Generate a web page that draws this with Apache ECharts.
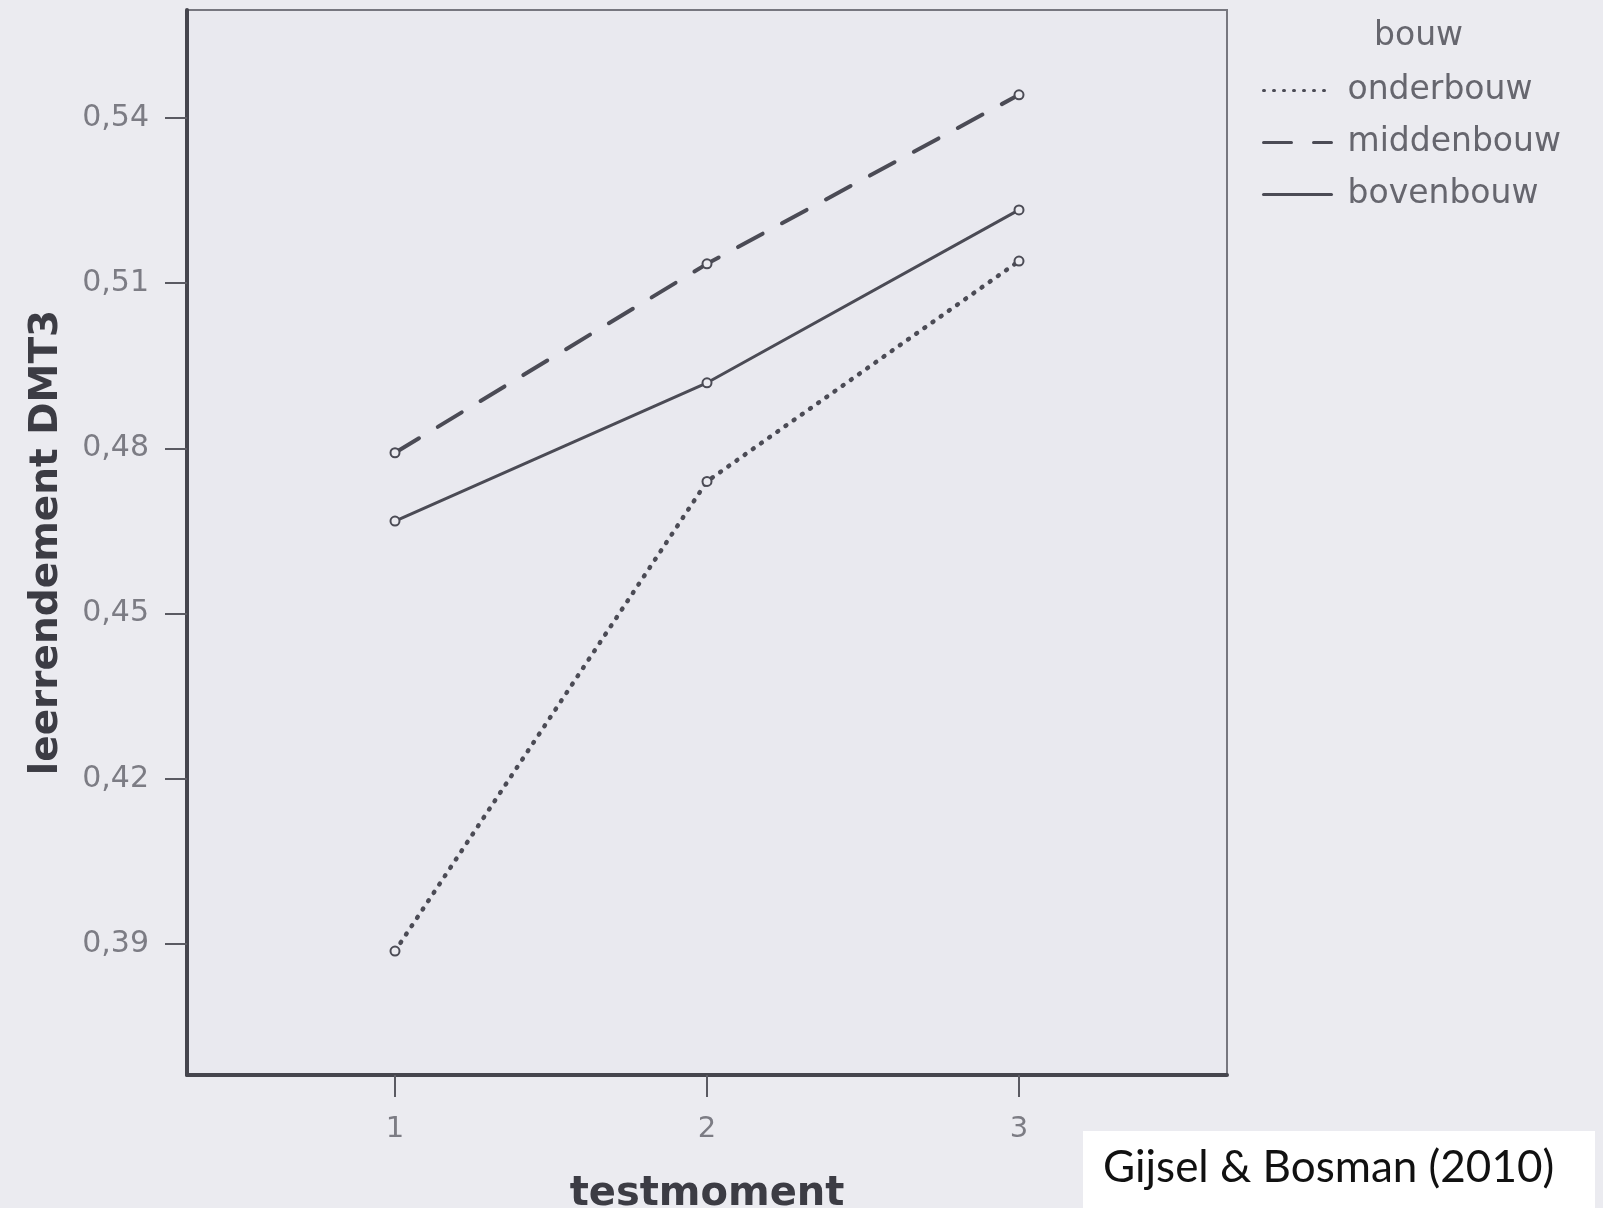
<!DOCTYPE html>
<html>
<head>
<meta charset="utf-8">
<script src="https://cdn.jsdelivr.net/npm/echarts@6/dist/echarts.min.js"></script>
<style>
html,body{margin:0;padding:0;background:#ebebf0;}
#chart{width:1603px;height:1208px;}
</style>
</head>
<body>
<div id="chart"></div>
<script>
const testmoments = [1, 2, 3];
const onderbouw = [0.3887, 0.4740, 0.5140];
const middenbouw = [0.4792, 0.5135, 0.5442];
const bovenbouw = [0.4668, 0.4919, 0.5233];
const yTicks = [0.39, 0.42, 0.45, 0.48, 0.51, 0.54];
const xTicks = [1, 2, 3];
const seriesNames = ['onderbouw', 'middenbouw', 'bovenbouw'];
const legendTitle = 'bouw';
const xTitle = 'testmoment';
const yTitle = 'leerrendement DMT3';
const sourceNote = 'Gijsel & Bosman (2010)';

const lineColor = '#4b4b55';
const bg = '#ebebf0';

function pairs(vals){ return testmoments.map((t,i)=>[t, vals[i]]); }
function mkSeries(name, vals, type, width, cap){
  return {
    name: name, type: 'line', data: pairs(vals),
    symbol: 'circle', symbolSize: 9,
    itemStyle: {color: bg, borderColor: lineColor, borderWidth: 2},
    lineStyle: {color: lineColor, width: width, type: type, cap: cap},
    emphasis: {disabled: true},
    z: 3
  };
}

const chart = echarts.init(document.getElementById('chart'), null, {renderer: 'canvas'});
chart.setOption({
  backgroundColor: bg,
  animation: false,
  grid: {left: 187, top: 10, width: 1040, height: 1065, show: true,
         outerBoundsMode: 'none', containLabel: false,
         backgroundColor: '#e9e9ef', borderColor: '#77777f', borderWidth: 2},
  xAxis: {
    type: 'value', min: 1/3, max: 11/3,
    name: xTitle, nameLocation: 'middle', nameGap: 100,
    nameTextStyle: {fontFamily: 'DejaVu Sans', fontWeight: 'bold', fontSize: 40, color: '#3c3c44', verticalAlign: 'top'},
    axisLine: {show: true, onZero: false, lineStyle: {color: '#45454d', width: 4}},
    axisTick: {show: true, length: 22, customValues: xTicks, lineStyle: {color: '#5a5a62', width: 2}},
    axisLabel: {show: true, customValues: xTicks, margin: 40, fontFamily: 'DejaVu Sans', fontSize: 29, color: '#7c7c84'},
    splitLine: {show: false}
  },
  yAxis: {
    type: 'value', min: 0.3662, max: 0.5596,
    name: yTitle, nameLocation: 'middle', nameGap: 121,
    nameTextStyle: {fontFamily: 'DejaVu Sans', fontWeight: 'bold', fontSize: 39, color: '#3c3c44'},
    axisLine: {show: true, onZero: false, lineStyle: {color: '#45454d', width: 4}},
    axisTick: {show: true, length: 22, customValues: yTicks, lineStyle: {color: '#5a5a62', width: 2}},
    axisLabel: {show: true, customValues: yTicks, margin: 38, fontFamily: 'DejaVu Sans', fontSize: 30, color: '#7c7c84',
      formatter: v => v.toFixed(2).replace('.', ',')},
    splitLine: {show: false}
  },
  legend: {
    orient: 'vertical', left: 1257, top: 69,
    itemWidth: 68, itemHeight: 20, itemGap: 19,
    data: seriesNames,
    selectedMode: false,
    textStyle: {fontFamily: 'DejaVu Sans', fontSize: 33, color: '#66666e', padding: [0,0,0,11]},
    itemStyle: {opacity: 0},
    lineStyle: {width: 3}
  },
  graphic: [
    {type: 'text', left: 1374, top: 20, style: {text: legendTitle, fontFamily: 'DejaVu Sans', fontSize: 33, fill: '#66666e'}},
    {type: 'rect', shape: {x: 1083, y: 1131, width: 512, height: 80}, style: {fill: '#ffffff'}, z: 10},
    {type: 'text', left: 1103, top: 1146, z: 11, style: {text: sourceNote, fontFamily: 'Lato', fontSize: 44, fill: '#111111'}}
  ],
  series: [
    mkSeries(seriesNames[0], onderbouw, [1, 9], 4.5, 'round'),
    mkSeries(seriesNames[1], middenbouw, [28, 22], 4, 'round'),
    mkSeries(seriesNames[2], bovenbouw, 'solid', 3, 'round')
  ]
});
</script>
</body>
</html>
